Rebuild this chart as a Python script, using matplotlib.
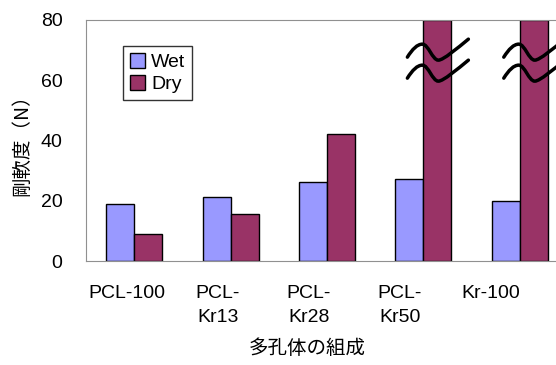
import numpy as np
import matplotlib
matplotlib.use('Agg')
import matplotlib.pyplot as plt
from matplotlib.path import Path
from matplotlib.patches import PathPatch
import matplotlib.transforms as mtransforms

plt.rcParams['font.family'] = ['Liberation Sans', 'Noto Sans CJK JP', 'DejaVu Sans']

# データ
categories = ['PCL-100', 'PCL-\nKr13', 'PCL-\nKr28', 'PCL-\nKr50', 'Kr-100']
wet = [19.0, 21.3, 26.1, 27.2, 19.9]
dry = [8.8, 15.6, 42.2, 80, 80]
broken = [False, False, False, True, True]   # 軸の上限を超える棒（波線で省略）

x = np.arange(len(categories))
w = 0.29

fig = plt.figure(figsize=(5.56, 3.65), dpi=100)
ax = fig.add_axes([86/556, 104/365, 482/556, 241/365])

ax.bar(x - w/2, wet, w, color='#9999FF', edgecolor='black', linewidth=1, label='Wet', zorder=2)
ax.bar(x + w/2, dry, w, color='#993366', edgecolor='black', linewidth=1, label='Dry', zorder=2)

ax.set_xlim(-0.5, len(categories) - 0.5)
ax.set_ylim(0, 80)
ax.set_yticks([0, 20, 40, 60, 80])
ax.tick_params(axis='y', length=0, pad=17, labelsize=14)
# ラベルは元図では少し左寄り
ax.set_xticks(x * 0.945 - 0.08)
ax.set_xticklabels(categories, fontsize=14, linespacing=1.6)
ax.tick_params(axis='x', length=0, pad=17)
for s in ['left', 'top', 'bottom']:
    ax.spines[s].set_color('#909090')
ax.spines['right'].set_visible(False)

ax.set_ylabel('剛軟度（N）', fontsize=14, family=['Noto Sans CJK JP'])
ax.yaxis.set_label_coords(-0.112, 0.5)
fig.text(307/556, 17/365, '多孔体の組成', fontsize=14, ha='center', va='center',
         family=['Noto Sans CJK JP'])

leg = ax.legend(loc='upper left', bbox_to_anchor=(123/556, 1 - 46/365),
                bbox_transform=fig.transFigure, fontsize=14, frameon=True,
                fancybox=False, edgecolor='black', borderaxespad=0, borderpad=0.35,
                handlelength=0.8, handleheight=0.8, handletextpad=0.3, labelspacing=0.2)
leg.get_frame().set_linewidth(1)

# 波線（省略記号）: 単位はピクセル/100 = インチ
verts = [(-30, -1), (-25, 7), (-20, 12), (-15, 12),
         (-9, 12), (-5, -4), (1, -4),
         (6, -4), (20, 8), (31, 17)]
codes = [Path.MOVETO] + [Path.CURVE4] * 9
for i in range(len(categories)):
    if not broken[i]:
        continue
    for off in [0, -21]:
        v = [(a / 100, (b + off) / 100) for a, b in verts]
        tr = fig.dpi_scale_trans + mtransforms.ScaledTranslation(x[i] + w/2, 68, ax.transData)
        p = PathPatch(Path(v, codes), facecolor='none', edgecolor='black', lw=2.5,
                      transform=tr, clip_on=False, zorder=5, capstyle='round')
        ax.add_patch(p)

fig.savefig('out.png', dpi=100)
